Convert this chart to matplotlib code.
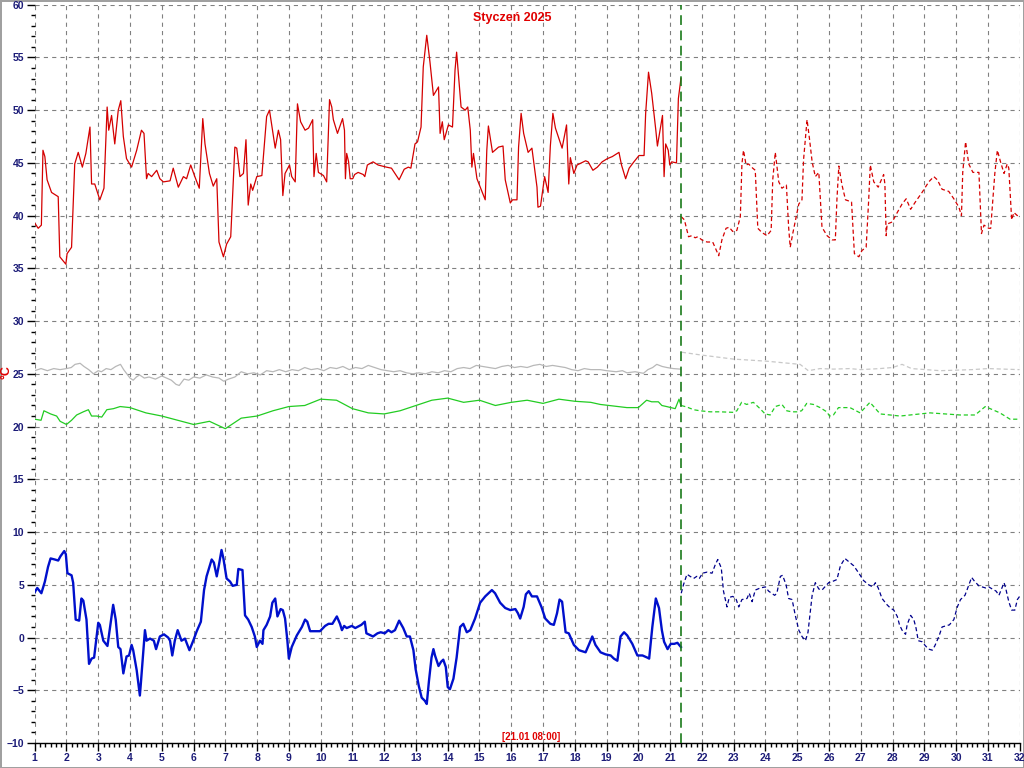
import numpy as np
import matplotlib
matplotlib.use("Agg")
import matplotlib.pyplot as plt
from matplotlib.ticker import MultipleLocator

plt.rcParams['font.family'] = ['Liberation Sans', 'DejaVu Sans']
plt.rcParams['lines.scale_dashes'] = False

# (day of month, temperature) pairs
red_meas = [
    (1.0, 39.3), (1.11, 38.8), (1.21, 39.1), (1.26, 46.2), (1.32, 45.6), (1.39, 43.4), (1.53, 42.2),
    (1.74, 41.8), (1.79, 36.1), (1.98, 35.4), (2.02, 36.4), (2.16, 37.0), (2.26, 44.9), (2.37, 46.0),
    (2.50, 44.6), (2.61, 45.9), (2.74, 48.4), (2.79, 43.0), (2.89, 43.0), (3.05, 41.5), (3.18, 42.6),
    (3.28, 50.3), (3.33, 48.1), (3.42, 49.5), (3.52, 46.8), (3.63, 50.0), (3.71, 50.9), (3.79, 47.5),
    (3.89, 45.4), (4.05, 44.6), (4.21, 46.2), (4.36, 48.1), (4.44, 47.8), (4.52, 43.5), (4.57, 44.0),
    (4.68, 43.7), (4.84, 44.3), (4.94, 43.5), (5.05, 43.2), (5.26, 43.3), (5.36, 44.5), (5.52, 42.7),
    (5.68, 43.7), (5.78, 43.5), (5.91, 44.8), (6.04, 43.7), (6.18, 42.6), (6.29, 49.2), (6.36, 46.8),
    (6.50, 44.0), (6.62, 42.8), (6.73, 43.5), (6.80, 37.5), (6.94, 36.1), (7.04, 37.3), (7.17, 38.0),
    (7.30, 46.5), (7.36, 46.4), (7.46, 43.7), (7.57, 44.0), (7.65, 47.2), (7.72, 41.0), (7.80, 43.0),
    (7.86, 42.4), (7.99, 43.7), (8.15, 43.8), (8.30, 49.4), (8.39, 50.0), (8.57, 46.4), (8.67, 48.1),
    (8.74, 47.2), (8.81, 41.9), (8.88, 44.0), (9.02, 44.8), (9.09, 43.7), (9.20, 43.2), (9.27, 50.6),
    (9.37, 48.9), (9.51, 48.1), (9.62, 48.3), (9.75, 49.1), (9.79, 43.7), (9.86, 45.9), (9.93, 44.1),
    (10.09, 43.8), (10.19, 43.2), (10.28, 51.0), (10.35, 50.3), (10.40, 49.1), (10.53, 47.8),
    (10.69, 49.2), (10.75, 48.1), (10.78, 43.5), (10.82, 45.9), (10.88, 45.1), (10.93, 43.5),
    (11.01, 43.5), (11.07, 43.9), (11.18, 44.1), (11.34, 43.9), (11.39, 43.7), (11.47, 44.8),
    (11.65, 45.1), (11.81, 44.8), (12.07, 44.6), (12.23, 44.5), (12.34, 44.0), (12.47, 43.4),
    (12.63, 44.4), (12.76, 44.6), (12.84, 44.5), (12.97, 46.8), (13.05, 47.0), (13.16, 48.4),
    (13.23, 54.1), (13.34, 57.1), (13.44, 54.6), (13.55, 51.4), (13.71, 52.2), (13.76, 47.8),
    (13.83, 48.9), (13.89, 47.2), (14.02, 48.6), (14.15, 48.4), (14.23, 53.8), (14.28, 55.5),
    (14.42, 50.3), (14.55, 50.0), (14.63, 50.3), (14.71, 48.1), (14.76, 44.6), (14.81, 45.9),
    (14.92, 43.5), (15.18, 41.5), (15.23, 46.2), (15.28, 48.5), (15.41, 46.0), (15.60, 46.5),
    (15.74, 46.6), (15.81, 43.4), (15.97, 41.2), (16.04, 41.5), (16.18, 41.5), (16.23, 46.5),
    (16.31, 49.7), (16.39, 47.8), (16.53, 46.0), (16.65, 46.4), (16.81, 42.7), (16.84, 40.8),
    (16.92, 40.9), (16.99, 42.4), (17.05, 43.7), (17.16, 42.2), (17.23, 46.6), (17.31, 49.7),
    (17.39, 48.3), (17.60, 46.4), (17.74, 48.6), (17.81, 43.0), (17.86, 45.5), (17.97, 44.0),
    (18.07, 44.8), (18.34, 45.2), (18.42, 45.1), (18.57, 44.3), (18.71, 44.6), (18.86, 45.1),
    (19.02, 45.4), (19.18, 45.6), (19.39, 46.0), (19.47, 44.8), (19.60, 43.5), (19.71, 44.5),
    (19.86, 45.1), (20.02, 45.7), (20.18, 45.7), (20.23, 49.7), (20.32, 53.6), (20.42, 51.6),
    (20.55, 48.1), (20.60, 46.6), (20.76, 49.5), (20.81, 43.7), (20.86, 46.8), (20.94, 46.2),
    (20.99, 44.8), (21.05, 45.1), (21.20, 45.0), (21.26, 51.1), (21.34, 53.0),
]
red_fcst = [
    (21.35, 39.9), (21.45, 39.6), (21.58, 38.0), (21.68, 38.1), (21.79, 37.9), (21.87, 38.0),
    (22.00, 37.7), (22.16, 37.5), (22.34, 37.5), (22.53, 36.2), (22.63, 37.7), (22.76, 38.8),
    (22.86, 38.9), (22.97, 38.5), (23.10, 38.6), (23.21, 39.9), (23.26, 44.9), (23.31, 46.2),
    (23.39, 44.8), (23.47, 44.9), (23.60, 44.5), (23.68, 44.3), (23.76, 38.8), (23.89, 38.4),
    (24.05, 38.1), (24.18, 38.6), (24.23, 43.4), (24.31, 46.0), (24.42, 43.2), (24.52, 42.6),
    (24.66, 42.9), (24.73, 38.9), (24.78, 37.0), (24.86, 38.3), (25.05, 41.1), (25.15, 41.5),
    (25.20, 45.3), (25.31, 49.1), (25.39, 47.2), (25.47, 45.1), (25.57, 43.7), (25.68, 44.1),
    (25.78, 38.9), (25.94, 38.1), (26.10, 37.7), (26.20, 37.7), (26.25, 41.5), (26.31, 44.7),
    (26.41, 42.9), (26.52, 41.5), (26.71, 41.3), (26.80, 36.4), (26.94, 36.1), (27.04, 36.7),
    (27.17, 37.0), (27.25, 41.5), (27.30, 44.8), (27.41, 43.2), (27.55, 42.7), (27.72, 43.9),
    (27.76, 43.0), (27.80, 38.1), (27.83, 39.2), (27.99, 39.4), (28.15, 40.3), (28.30, 41.1),
    (28.43, 41.6), (28.57, 40.6), (28.72, 41.3), (28.93, 42.2), (29.14, 43.2), (29.30, 43.7),
    (29.41, 43.4), (29.56, 42.5), (29.77, 42.3), (29.93, 41.6), (30.09, 40.8), (30.17, 40.0),
    (30.21, 44.1), (30.30, 47.0), (30.40, 44.9), (30.53, 44.1), (30.72, 44.1), (30.80, 38.3),
    (30.88, 39.1), (31.03, 38.8), (31.09, 38.8), (31.22, 44.0), (31.30, 46.2), (31.40, 45.1),
    (31.51, 44.0), (31.61, 44.9), (31.66, 44.5), (31.75, 39.6), (31.82, 40.3), (31.93, 40.0),
    (32.00, 40.2),
]
blue_meas = [
    (1.0, 4.3), (1.08, 4.7), (1.21, 4.2), (1.32, 5.3), (1.42, 6.7), (1.50, 7.5), (1.63, 7.4),
    (1.74, 7.3), (1.81, 7.7), (1.93, 8.2), (1.98, 7.9), (2.03, 6.1), (2.16, 5.9), (2.21, 5.2),
    (2.29, 1.7), (2.40, 1.6), (2.47, 3.7), (2.53, 3.5), (2.63, 1.7), (2.71, -2.5), (2.79, -2.0),
    (2.87, -1.9), (3.00, 1.4), (3.05, 1.2), (3.16, -0.3), (3.29, -0.8), (3.37, 0.9), (3.47, 3.1),
    (3.55, 1.7), (3.63, -0.9), (3.70, -1.1), (3.79, -3.4), (3.89, -1.8), (3.97, -1.7), (4.05, -0.7),
    (4.10, -1.2), (4.21, -3.1), (4.31, -5.5), (4.34, -4.4), (4.42, -1.2), (4.47, 0.7), (4.52, -0.3),
    (4.63, -0.1), (4.75, -0.3), (4.82, -1.1), (4.94, 0.1), (5.07, 0.3), (5.20, 0.0), (5.26, -0.3),
    (5.33, -1.7), (5.41, -0.3), (5.50, 0.7), (5.62, -0.3), (5.73, -0.1), (5.87, -1.2), (5.99, -0.3),
    (6.10, 0.6), (6.23, 1.5), (6.33, 4.5), (6.41, 5.8), (6.57, 7.4), (6.64, 7.1), (6.73, 5.8),
    (6.80, 6.9), (6.88, 8.3), (6.94, 7.5), (7.04, 5.6), (7.15, 5.3), (7.23, 4.9), (7.36, 5.0),
    (7.41, 6.5), (7.54, 6.4), (7.62, 2.1), (7.72, 1.7), (7.83, 1.0), (7.93, 0.1), (7.99, -0.9),
    (8.09, -0.3), (8.17, -0.6), (8.20, 0.7), (8.30, 1.2), (8.41, 2.0), (8.48, 3.3), (8.57, 3.7),
    (8.64, 2.0), (8.74, 2.7), (8.81, 2.6), (8.88, 1.8), (8.95, -0.2), (9.00, -2.0), (9.09, -0.9),
    (9.25, 0.2), (9.41, 1.0), (9.51, 1.7), (9.58, 1.5), (9.67, 0.6), (9.98, 0.6), (10.14, 1.1),
    (10.25, 1.3), (10.37, 1.3), (10.51, 2.0), (10.61, 1.3), (10.67, 0.7), (10.74, 1.1),
    (10.82, 0.9), (10.98, 1.1), (11.09, 0.9), (11.28, 1.2), (11.39, 1.5), (11.44, 0.4),
    (11.65, 0.1), (11.79, 0.4), (11.89, 0.5), (12.02, 0.4), (12.13, 0.7), (12.23, 0.5),
    (12.34, 0.7), (12.47, 1.6), (12.60, 0.9), (12.71, 0.1), (12.81, 0.1), (12.92, -1.2),
    (12.99, -3.0), (13.09, -4.6), (13.18, -5.7), (13.28, -6.0), (13.34, -6.3), (13.41, -4.1),
    (13.49, -1.9), (13.55, -1.1), (13.60, -1.7), (13.71, -2.7), (13.79, -2.3), (13.86, -2.1),
    (13.94, -2.8), (14.00, -4.7), (14.07, -4.9), (14.18, -3.9), (14.28, -1.9), (14.39, 1.0),
    (14.49, 1.3), (14.60, 0.5), (14.71, 0.7), (14.86, 1.8), (15.02, 3.3), (15.18, 3.9),
    (15.39, 4.5), (15.49, 4.2), (15.65, 3.3), (15.81, 2.8), (15.97, 2.6), (16.13, 2.7),
    (16.21, 2.3), (16.28, 1.8), (16.39, 2.9), (16.46, 4.1), (16.55, 4.4), (16.65, 3.9),
    (16.81, 3.9), (16.95, 2.9), (17.07, 1.8), (17.23, 1.3), (17.34, 1.2), (17.44, 2.3),
    (17.52, 3.6), (17.60, 3.4), (17.71, 0.5), (17.81, 0.4), (17.97, -0.7), (18.13, -1.2),
    (18.34, -1.4), (18.44, -0.7), (18.55, 0.1), (18.65, -0.7), (18.81, -1.4), (18.97, -1.6),
    (19.13, -1.7), (19.23, -2.0), (19.34, -2.2), (19.44, 0.1), (19.55, 0.5), (19.65, 0.2),
    (19.81, -0.6), (19.97, -1.7), (20.13, -1.7), (20.28, -1.9), (20.34, -2.0), (20.44, 1.0),
    (20.55, 3.7), (20.65, 2.8), (20.74, 0.7), (20.81, -0.4), (20.92, -1.1), (21.02, -0.6),
    (21.13, -0.6), (21.23, -0.5), (21.34, -0.9),
]
blue_fcst = [
    (21.35, 4.2), (21.42, 5.0), (21.53, 6.0), (21.63, 5.8), (21.74, 5.6), (21.84, 5.8), (21.92, 5.6),
    (22.02, 6.1), (22.16, 6.2), (22.32, 6.1), (22.42, 6.9), (22.50, 7.4), (22.61, 6.6), (22.68, 4.4),
    (22.79, 2.9), (22.86, 3.8), (22.97, 3.9), (23.07, 3.7), (23.16, 2.9), (23.26, 3.6), (23.42, 3.7),
    (23.49, 4.2), (23.58, 3.4), (23.68, 4.5), (23.84, 4.7), (24.00, 4.8), (24.10, 4.4), (24.29, 4.0),
    (24.36, 4.2), (24.47, 5.8), (24.54, 5.9), (24.65, 5.0), (24.73, 3.7), (24.84, 3.6), (24.94, 2.1),
    (25.05, 0.7), (25.15, 0.1), (25.26, -0.3), (25.34, 0.5), (25.47, 4.0), (25.57, 5.2), (25.68, 4.6),
    (25.78, 4.5), (25.99, 5.2), (26.10, 5.3), (26.25, 5.5), (26.36, 6.8), (26.50, 7.5), (26.62, 7.2),
    (26.78, 6.8), (26.94, 6.1), (27.09, 5.4), (27.25, 5.0), (27.38, 4.8), (27.46, 5.2), (27.55, 4.7),
    (27.67, 3.7), (27.83, 3.1), (27.93, 2.8), (28.04, 2.6), (28.15, 2.0), (28.22, 1.2), (28.30, 0.7),
    (28.41, 0.3), (28.46, 1.2), (28.57, 2.1), (28.67, 1.7), (28.74, 0.9), (28.81, -0.3), (28.93, -0.4),
    (29.04, -0.8), (29.14, -1.1), (29.25, -1.2), (29.33, -0.8), (29.46, 0.1), (29.56, 1.0),
    (29.67, 1.1), (29.79, 1.2), (29.93, 1.7), (30.04, 2.9), (30.14, 3.6), (30.28, 4.0), (30.38, 4.8),
    (30.49, 5.7), (30.59, 5.3), (30.72, 4.9), (30.82, 4.8), (30.93, 4.7), (31.03, 4.8), (31.14, 4.6),
    (31.26, 4.4), (31.35, 4.0), (31.43, 4.6), (31.51, 5.2), (31.56, 4.7), (31.66, 3.4), (31.75, 2.6),
    (31.85, 2.6), (31.93, 3.6), (32.00, 3.9),
]
gray_meas = [
    (1.0, 25.3), (1.2, 25.5), (1.4, 25.3), (1.6, 25.5), (1.8, 25.4), (2.0, 25.5), (2.15, 25.6),
    (2.27, 25.9), (2.43, 26.0), (2.55, 25.7), (2.7, 25.4), (2.85, 25.0), (3.0, 25.3), (3.1, 25.2),
    (3.25, 25.5), (3.4, 25.4), (3.55, 25.7), (3.7, 25.9), (3.8, 25.4), (3.9, 25.0), (4.0, 24.6),
    (4.1, 24.4), (4.2, 24.7), (4.3, 24.9), (4.45, 24.6), (4.6, 24.7), (4.8, 24.5), (5.0, 24.8),
    (5.15, 24.6), (5.3, 24.4), (5.45, 24.0), (5.55, 23.9), (5.7, 24.5), (5.85, 24.4), (6.0, 24.7),
    (6.2, 24.6), (6.4, 24.9), (6.6, 24.7), (6.8, 24.6), (6.95, 24.3), (7.1, 24.5), (7.3, 24.7),
    (7.5, 25.2), (7.7, 25.0), (7.9, 25.1), (8.1, 24.9), (8.3, 25.3), (8.5, 25.2), (8.7, 25.4),
    (8.9, 25.2), (9.1, 25.4), (9.3, 25.3), (9.5, 25.6), (9.7, 25.4), (9.9, 25.5), (10.1, 25.3),
    (10.3, 25.6), (10.5, 25.5), (10.7, 25.7), (10.9, 25.4), (11.1, 25.6), (11.3, 25.5), (11.5, 25.8),
    (11.7, 25.6), (11.9, 25.4), (12.1, 25.3), (12.3, 25.2), (12.5, 25.3), (12.7, 25.1), (12.9, 25.0),
    (13.1, 25.1), (13.3, 25.0), (13.5, 25.2), (13.7, 25.1), (13.9, 25.3), (14.1, 25.2), (14.3, 25.5),
    (14.5, 25.6), (14.7, 25.5), (14.9, 25.8), (15.1, 25.7), (15.3, 25.6), (15.5, 25.5), (15.7, 25.7),
    (15.9, 25.8), (16.1, 25.6), (16.3, 25.7), (16.5, 25.6), (16.7, 25.8), (16.9, 25.9), (17.1, 25.7),
    (17.3, 25.8), (17.5, 25.7), (17.7, 25.6), (17.9, 25.4), (18.1, 25.3), (18.3, 25.5), (18.5, 25.4),
    (18.8, 25.4), (19.0, 25.3), (19.3, 25.2), (19.5, 25.3), (19.64, 25.1), (19.9, 25.2),
    (20.16, 25.05), (20.3, 25.4), (20.45, 25.6), (20.58, 25.9), (20.75, 25.7), (20.9, 25.6),
    (21.1, 25.5), (21.32, 25.45),
]
gray_fcst = [
    (21.37, 27.05), (21.94, 26.8), (22.99, 26.4), (24.04, 26.2), (25.09, 25.9), (25.35, 25.3),
    (25.72, 25.5), (26.14, 25.45), (26.66, 25.5), (27.0, 25.4), (27.6, 25.5), (28.0, 25.6),
    (28.3, 25.9), (28.6, 25.5), (29.5, 25.3), (30.5, 25.4), (31.0, 25.5), (32.0, 25.4),
]
green_meas = [
    (1.0, 20.7), (1.2, 20.6), (1.29, 21.5), (1.5, 21.2), (1.69, 21.0), (1.8, 20.5), (2.0, 20.2),
    (2.16, 20.6), (2.32, 21.1), (2.53, 21.4), (2.69, 21.6), (2.79, 21.0), (2.95, 21.0), (3.11, 20.9),
    (3.27, 21.6), (3.48, 21.7), (3.69, 21.9), (4.0, 21.8), (4.5, 21.3), (5.0, 21.0), (5.5, 20.6),
    (6.0, 20.2), (6.5, 20.5), (7.0, 19.8), (7.5, 20.8), (8.0, 21.0), (8.5, 21.5), (9.0, 21.9),
    (9.5, 22.0), (10.0, 22.6), (10.5, 22.5), (11.0, 21.7), (11.5, 21.3), (12.0, 21.2), (12.5, 21.5),
    (13.0, 22.0), (13.5, 22.5), (14.0, 22.7), (14.5, 22.3), (15.0, 22.5), (15.5, 22.0), (16.0, 22.3),
    (16.5, 22.5), (17.0, 22.2), (17.5, 22.6), (18.0, 22.4), (18.5, 22.3), (18.8, 22.1), (19.64, 21.8),
    (20.0, 21.8), (20.26, 22.5), (20.42, 22.35), (20.63, 22.35), (20.74, 22.0), (20.89, 21.9),
    (21.16, 21.7), (21.28, 22.6), (21.34, 22.0),
]
green_fcst = [
    (21.35, 22.0), (21.53, 21.85), (21.74, 21.6), (21.94, 21.5), (22.26, 21.4), (22.57, 21.4),
    (22.99, 21.35), (23.1, 21.5), (23.25, 22.3), (23.41, 22.1), (23.62, 22.3), (23.83, 21.7),
    (23.99, 21.2), (24.15, 21.1), (24.31, 21.9), (24.52, 22.1), (24.67, 21.5), (24.83, 21.4),
    (24.99, 21.4), (25.14, 21.5), (25.30, 22.2), (25.51, 22.1), (25.72, 21.8), (25.93, 21.4),
    (26.02, 21.0), (26.14, 21.1), (26.30, 21.8), (26.51, 21.8), (26.66, 21.8), (26.98, 21.3),
    (27.29, 22.3), (27.61, 21.2), (28.24, 21.0), (29.18, 21.3), (30.13, 21.1), (30.60, 21.1),
    (30.92, 21.9), (31.38, 21.3), (31.70, 20.7), (31.98, 20.7),
]

now_day = 21 + 8 / 24
title = 'Styczeń 2025'
now_label = '[21.01 08:00]'

fig = plt.figure(figsize=(10.24, 7.68), dpi=100)
fig.patch.set_edgecolor('#a0a0a0')
fig.patch.set_linewidth(2)
ax = fig.add_axes([34.7 / 1024, 1 - 743 / 768, (1019.6 - 34.7) / 1024, (743 - 4.7) / 768])

def draw(data, color, lw, dashes=None, z=3):
    d = np.array(data).T
    line, = ax.plot(d[0], d[1], color=color, lw=lw, zorder=z)
    if dashes:
        line.set_dashes(dashes)

draw(gray_meas, '#b8b8b8', 0.9)
draw(gray_fcst, '#c8c8c8', 0.9, (3, 2))
draw(green_meas, '#22cc22', 0.9)
draw(green_fcst, '#22cc22', 0.9, (3, 2))
draw(red_meas, '#d40000', 0.9)
draw(red_fcst, '#d40000', 0.9, (3, 2))
draw(blue_meas, '#0010cc', 1.7)
draw(blue_fcst, '#00008b', 0.9, (3, 2))

ax.axvline(now_day, color='#1a7a1a', lw=1.2, dashes=(7, 4), zorder=4)

ax.set_xlim(1, 32)
ax.set_ylim(-10, 60)
ax.xaxis.set_major_locator(MultipleLocator(1))
ax.xaxis.set_minor_locator(MultipleLocator(1 / 6))
ax.yaxis.set_major_locator(MultipleLocator(5))
ax.yaxis.set_minor_locator(MultipleLocator(1))
ax.grid(True, which='major', color='#808080', lw=0.8, dashes=(3, 3))

for s in ['top', 'right', 'left']:
    ax.spines[s].set_visible(False)
ax.spines['bottom'].set_color('black')
ax.spines['bottom'].set_linewidth(1.0)

ax.tick_params(axis='both', which='major', length=6, width=1, color='black',
               labelsize=7.5, labelcolor='#1c1c78', pad=1.5)
ax.tick_params(axis='both', which='minor', length=3, width=1, color='black')
for lab in ax.get_xticklabels() + ax.get_yticklabels():
    lab.set_fontweight('bold')

fig.text(0.5, 1 - 18 / 768, title, color='#e00000', fontsize=9, fontweight='bold',
         ha='center', va='center')
fig.text(531 / 1024, 1 - 737 / 768, now_label, color='#e00000', fontsize=7, fontweight='bold',
         ha='center', va='center')
fig.text(7 / 1024, 1 - 372 / 768, '°C', color='#e00000', fontsize=9, fontweight='bold',
         rotation=90, ha='center', va='center')

fig.savefig('out.png', dpi=100)
